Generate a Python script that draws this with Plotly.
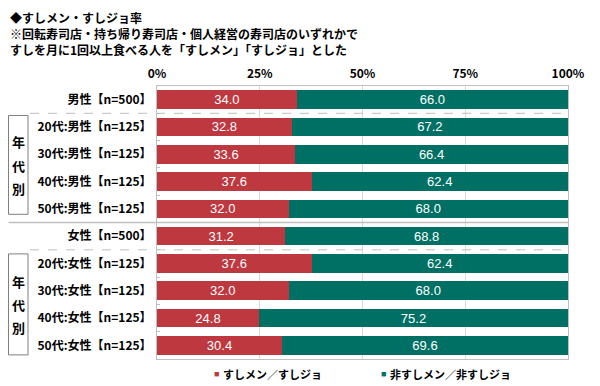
import plotly.graph_objects as go

categories = ["男性【n=500】", "20代:男性【n=125】", "30代:男性【n=125】", "40代:男性【n=125】", "50代:男性【n=125】",
              "女性【n=500】", "20代:女性【n=125】", "30代:女性【n=125】", "40代:女性【n=125】", "50代:女性【n=125】"]
sushi = [34.0, 32.8, 33.6, 37.6, 32.0, 31.2, 37.6, 32.0, 24.8, 30.4]
non_sushi = [66.0, 67.2, 66.4, 62.4, 68.0, 68.8, 62.4, 68.0, 75.2, 69.6]
series_names = ["すしメン／すしジョ", "非すしメン／非すしジョ"]
tick_vals = [0, 25, 50, 75, 100]
tick_text = ["0%", "25%", "50%", "75%", "100%"]

RED = "#BE3840"
TEAL = "#007064"
JP = "Noto Sans CJK JP"
NUM = "Liberation Sans"

# page body has an 8px margin; work in page coordinates and convert
OFF = 8
W, H = 600 - OFF, 386 - OFF
PL, PR, PT, PB = 157, 568, 86, 359   # plot area in page pixels
L = PL - OFF
R = W - (PR - OFF)
T = PT - OFF
B = H - (PB - OFF)
pw = PR - PL
ph = PB - PT

def px_x(x):
    return (x - PL) / pw

def px_y(y):
    return (PB - y) / ph

fig = go.Figure()
for name, vals, col in [(series_names[0], sushi, RED), (series_names[1], non_sushi, TEAL)]:
    fig.add_trace(go.Bar(
        y=categories, x=vals, name=name, orientation="h",
        marker=dict(color=col, line=dict(width=0)),
        text=[f"{v:.1f}" for v in vals], textposition="inside",
        insidetextanchor="middle", textangle=0, constraintext="none",
        textfont=dict(color="white", size=13, family=NUM),
        showlegend=False,
    ))

fig.update_layout(
    width=W, height=H, barmode="stack", bargap=0.32,
    margin=dict(l=L, r=R, t=T, b=B, autoexpand=False),
    plot_bgcolor="white", paper_bgcolor="white",
    showlegend=False,
)
fig.update_xaxes(
    range=[0, 100], side="top", tickvals=tick_vals, ticktext=tick_text,
    showgrid=True, gridcolor="#D9D9D9", gridwidth=1,
    showline=True, linecolor="#BFBFBF", linewidth=1, mirror=True,
    zeroline=False, ticks="", ticklabelstandoff=2,
    tickfont=dict(family=JP, size=12, color="#000", weight="bold"),
    fixedrange=True,
)
fig.update_yaxes(
    categoryorder="array", categoryarray=categories, autorange="reversed",
    showline=True, linecolor="#BFBFBF", linewidth=1, mirror=True,
    ticks="inside", tickson="boundaries", ticklen=3, tickcolor="#BFBFBF",
    tickfont=dict(family=JP, size=12, color="#000", weight="bold"),
    ticklabelstandoff=2, showgrid=False,
)

LEFT_EDGE = OFF + 0.5
shapes = []
for yv in [0.5, 5.5]:
    shapes.append(dict(type="line", xref="paper", yref="y", x0=px_x(30), x1=1, y0=yv, y1=yv,
                       line=dict(color="#BFBFBF", width=1, dash="dash")))
shapes.append(dict(type="line", xref="paper", yref="y", x0=px_x(LEFT_EDGE), x1=1, y0=4.5, y1=4.5,
                   line=dict(color="#BFBFBF", width=1.5)))
for y0, y1 in [(0.58, 4.2), (5.65, 9.35)]:
    shapes.append(dict(type="rect", xref="paper", yref="y", x0=px_x(LEFT_EDGE), x1=px_x(28), y0=y0, y1=y1,
                       line=dict(color="#7F7F7F", width=1), fillcolor="rgba(0,0,0,0)"))
fig.update_layout(shapes=shapes)

ann = []
for yc in [2.4, 7.5]:
    for i, ch in enumerate(["年", "代", "別"]):
        ann.append(dict(xref="paper", yref="y", x=px_x(18), y=yc + (i - 1) * 0.85, text=ch,
                        showarrow=False, xanchor="center", yanchor="middle",
                        font=dict(family=JP, size=13, color="#000", weight="bold")))
titles = ["◆すしメン・すしジョ率",
          "※回転寿司店・持ち帰り寿司店・個人経営の寿司店のいずれかで",
          "すしを月に1回以上食べる人を「すしメン」「すしジョ」とした"]
for i, t in enumerate(titles):
    ann.append(dict(xref="paper", yref="paper", x=px_x(OFF), y=px_y(17 + i * 16.2), text=t,
                    showarrow=False, xanchor="left", yanchor="middle",
                    font=dict(family=JP, size=12, color="#000", weight="bold")))
# legend
for name, col, xm in [(series_names[0], RED, 213), (series_names[1], TEAL, 380)]:
    ann.append(dict(xref="paper", yref="paper", x=px_x(xm - 1), y=px_y(374), text="■",
                    showarrow=False, xanchor="left", yanchor="middle",
                    font=dict(family=NUM, size=9, color=col)))
    ann.append(dict(xref="paper", yref="paper", x=px_x(xm + 8), y=px_y(374), text=name,
                    showarrow=False, xanchor="left", yanchor="middle",
                    font=dict(family=JP, size=11, color="#000", weight="bold")))
fig.update_layout(annotations=ann)

fig.write_html("out.html")
